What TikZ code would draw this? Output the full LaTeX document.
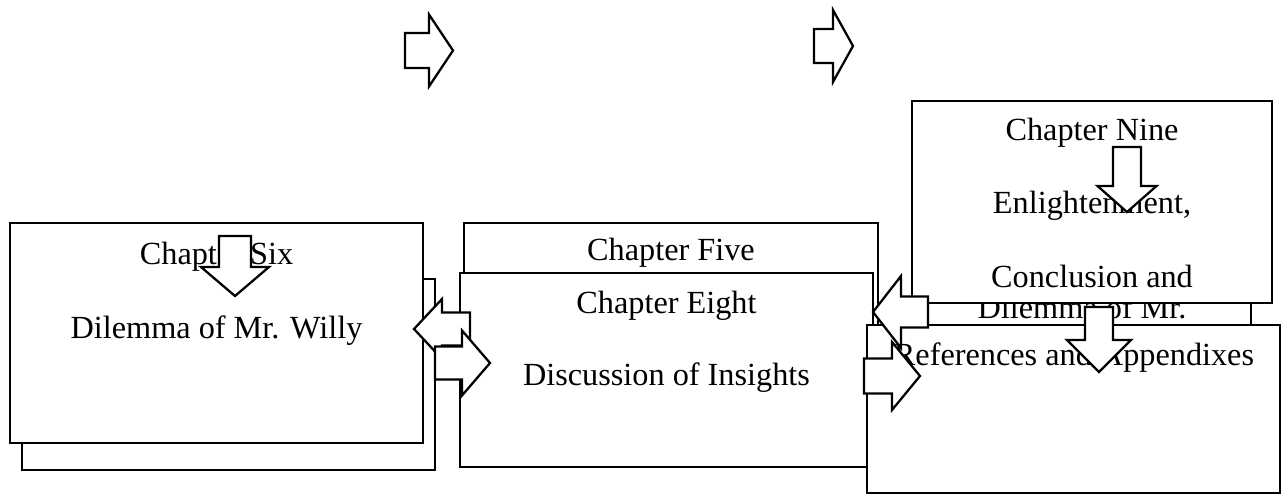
\documentclass[tikz,border=0pt]{standalone}
\usepackage{fontspec}
\setmainfont{Liberation Serif}
\usetikzlibrary{fit}

\begin{document}
\begin{tikzpicture}[
  x=0.75pt, y=-0.75pt,
  font=\fontsize{24.2}{29}\selectfont,
  chap/.style={draw,fill=white,line width=1.7pt,inner sep=0pt},
  txt/.style={anchor=base,inner sep=0pt},
  barr/.style={draw,fill=white,line width=1.7pt,line join=miter},
  % block arrow: length, head length, shaft half width, head half width
  pics/blockarrow/.style n args={4}{code={
    \draw[barr] (0,-#3) -- (#1-#2,-#3) -- (#1-#2,-#4) -- (#1,0)
      -- (#1-#2,#4) -- (#1-#2,#3) -- (0,#3) -- cycle;
  }},
]
\useasboundingbox (0,0) rectangle (1286,496);

% left stack
\node[chap, fit={(22,279) (435,470)}] (sixback) {};
\node[chap, fit={(10,223) (423,443)}] (six) {};
\node[txt] (sixA) at (216.5,264) {Chapter Six};
\node[txt] (sixB) at (216.5,338) {Dilemma of Mr. Willy};
\pic[rotate=-90] (downsix) at (235,236) {blockarrow={60}{29}{16}{34}};

% middle stack
\node[chap, fit={(464,223) (878,440)}] (five) {};
\node[txt] (fiveA) at (671,260) {Chapter Five};
\node[chap, fit={(460,273) (873,467)}] (eight) {};
\node[txt] (eightA) at (666.5,313) {Chapter Eight};
\node[txt] (eightB) at (666.5,385) {Discussion of Insights};

% right stack
\node[chap, fit={(913,110) (1251,420)}] (seven) {};
\node[txt] (sevenA) at (1082,318) {Dilemma of Mr.};
\node[chap, fit={(912,101) (1272,303)}] (nine) {};
\node[txt] (nineA) at (1092,140) {Chapter Nine};
\node[txt] (nineB) at (1092,213) {Enlightenment,};
\node[txt] (nineC) at (1092,287) {Conclusion and};
\pic[rotate=-90] (downnine) at (1127,147) {blockarrow={65}{26}{14}{29.5}};
\node[chap, fit={(867,325) (1280,493)}] (refs) {};
\node[txt] (refsA) at (1074,365) {References and Appendixes};
\pic[rotate=-90] (downrefs) at (1099,307) {blockarrow={65}{32}{14}{32}};

% arrows between the stacks
\pic[rotate=180] (backsix) at (470,329) {blockarrow={56}{28}{16.5}{30}};
\pic (toeight) at (435,363) {blockarrow={55}{28}{16.5}{32.5}};
\pic[rotate=180] (backeight) at (928,312) {blockarrow={55}{28}{15.5}{36}};
\pic (torefs) at (864,376) {blockarrow={56}{28}{17.5}{34}};

% top row
\pic (topleft) at (405,50.5) {blockarrow={48}{24}{17.5}{36}};
\pic (topright) at (814,46) {blockarrow={39}{20}{17}{36}};
\end{tikzpicture}
\end{document}
